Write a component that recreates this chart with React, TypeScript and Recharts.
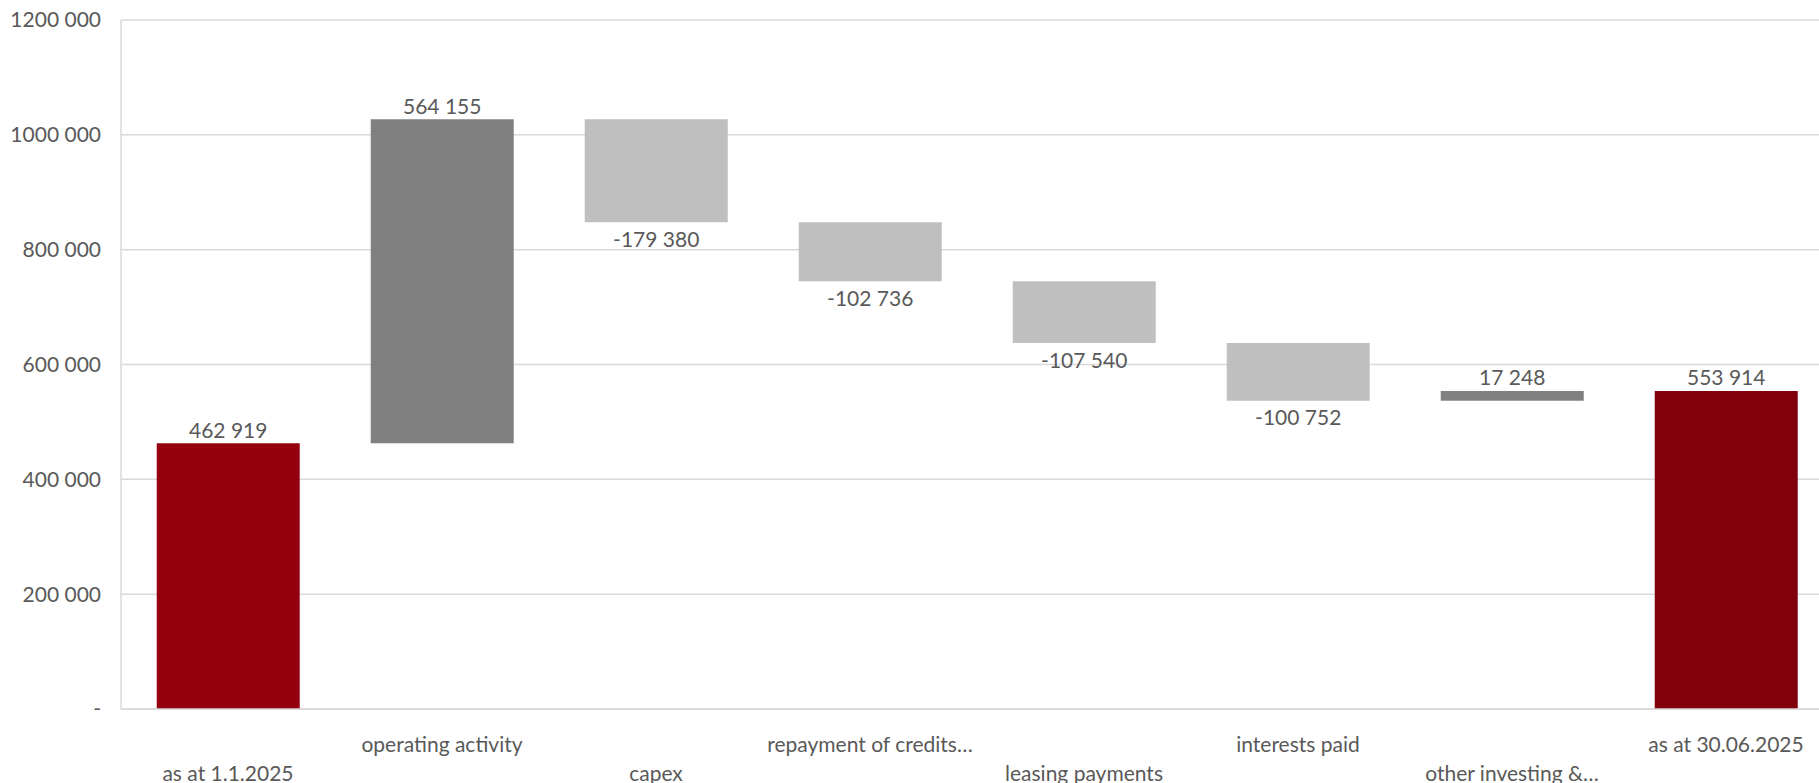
import React from 'react';
import { BarChart, Bar, XAxis, YAxis, CartesianGrid, Cell, LabelList } from 'recharts';

const categories = [
  'as at 1.1.2025',
  'operating activity',
  'capex',
  'repayment of credits…',
  'leasing payments',
  'interests paid',
  'other investing &…',
  'as at 30.06.2025',
];
const changes = [462919, 564155, -179380, -102736, -107540, -100752, 17248, 553914];
const kinds = ['start', 'up', 'down', 'down', 'down', 'down', 'up', 'end'];

const yTicks = [0, 200000, 400000, 600000, 800000, 1000000, 1200000];
const yTickLabels = ['-', '200 000', '400 000', '600 000', '800 000', '1000 000', '1200 000'];

const kindColor: Record<string, string> = {
  start: '#95000f',
  end: '#80000b',
  up: '#808080',
  down: '#bfbfbf',
};

const TEXT = '#595959';
const FONT = 'Lato, "Noto Sans", sans-serif';

// running totals -> [low, high] ranges for each floating bar
let running = 0;
const data = categories.map((name, i) => {
  const v = changes[i];
  let lo: number;
  let hi: number;
  if (kinds[i] === 'start' || kinds[i] === 'end') {
    lo = 0;
    hi = v;
    running = v;
  } else {
    lo = Math.min(running, running + v);
    hi = Math.max(running, running + v);
    running += v;
  }
  return { name, value: v, kind: kinds[i], range: [lo, hi] };
});

const fmt = (n: number) => {
  const s = Math.abs(n).toString().replace(/\B(?=(\d{3})+(?!\d))/g, ' ');
  return (n < 0 ? '-' : '') + s;
};

const ValueLabel = (props: any) => {
  const { x, y, width, height, index } = props;
  const v = changes[index];
  const top = Math.min(y, y + height);
  const bottom = Math.max(y, y + height);
  const ty = v < 0 ? bottom + 16 : top - 14;
  return (
    <text
      x={x + width / 2}
      y={ty}
      textAnchor="middle"
      dominantBaseline="central"
      fill={TEXT}
      fontSize={21}
      fontFamily={FONT}
    >
      {fmt(v)}
    </text>
  );
};

const CategoryTick = (props: any) => {
  const { x, y, payload, index } = props;
  return (
    <text
      x={x}
      y={y + (index % 2 === 0 ? 63 : 34)}
      textAnchor="middle"
      dominantBaseline="central"
      fill={TEXT}
      fontSize={21}
      fontFamily={FONT}
    >
      {payload.value}
    </text>
  );
};

export default function App() {
  return (
    <div
      style={{
        position: 'absolute',
        left: 0,
        top: 0,
        width: 1819,
        height: 783,
        overflow: 'hidden',
        background: '#fff',
      }}
    >
      {/* the original plot area runs a little past the right edge of the picture */}
      <BarChart
        width={1834}
        height={783}
        data={data}
        margin={{ top: 20, right: 1, left: 0, bottom: 0 }}
        barCategoryGap="16.7%"
        style={{ fontFamily: FONT }}
      >
        <CartesianGrid vertical={false} stroke="#d9d9d9" strokeWidth={1.5} />
        <XAxis
          dataKey="name"
          interval={0}
          tickLine={false}
          tickSize={0}
          tickMargin={0}
          height={74}
          axisLine={{ stroke: '#d9d9d9', strokeWidth: 1.5 }}
          tick={<CategoryTick />}
        />
        <YAxis
          domain={[0, 1200000]}
          ticks={yTicks}
          interval={0}
          width={121}
          tickLine={false}
          tickMargin={14}
          axisLine={{ stroke: '#d9d9d9', strokeWidth: 1.5 }}
          tick={{ fill: TEXT, fontSize: 21, fontFamily: FONT }}
          tickFormatter={(v: number) => yTickLabels[yTicks.indexOf(v)]}
        />
        <Bar dataKey="range" isAnimationActive={false}>
          {data.map((d, i) => (
            <Cell key={i} fill={kindColor[d.kind]} />
          ))}
          <LabelList dataKey="value" content={<ValueLabel />} />
        </Bar>
      </BarChart>
    </div>
  );
}
